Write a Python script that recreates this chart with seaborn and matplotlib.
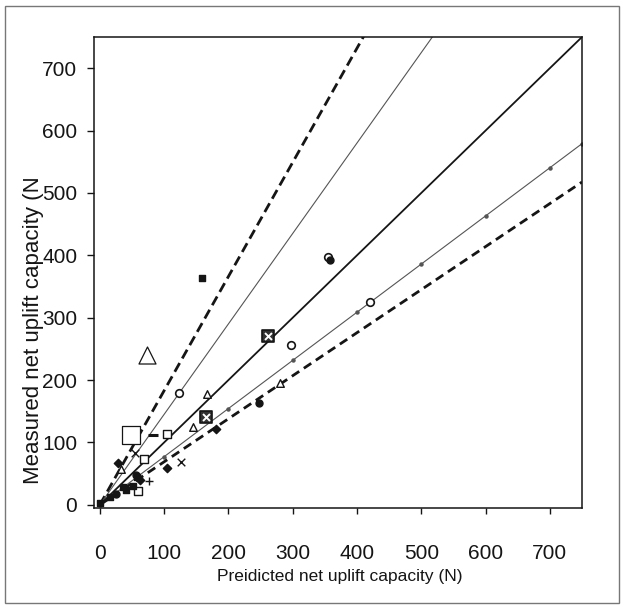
import matplotlib
matplotlib.use("Agg")
import matplotlib.pyplot as plt
from matplotlib.patches import Rectangle
import seaborn as sns
import pandas as pd

sns.set_theme(style="white")
plt.rcParams["font.family"] = ["Liberation Sans", "DejaVu Sans"]

# Reference lines: measured = slope * predicted
line_x = [0, 100, 200, 300, 400, 500, 600, 700, 750]
slope_upper_dashed = 1.83
slope_upper_thin = 1.45
slope_unity = 1.0
slope_lower_thin = 0.772
slope_lower_dashed = 0.69

# Test results (predicted, measured) grouped by symbol
big_open_square_x = [49]
big_open_square_y = [112]
big_open_triangle_x = [74]
big_open_triangle_y = [241]
open_square_x = [105, 68, 60]
open_square_y = [114, 74, 22]
open_circle_x = [123, 297, 421, 355]
open_circle_y = [180, 257, 326, 397]
open_triangle_x = [167, 145, 280, 33]
open_triangle_y = [178, 125, 196, 58]
filled_square_x = [159, 41, 16, 0, 36, 58, 52]
filled_square_y = [364, 24, 13, 3, 28, 45, 30]
cross_square_x = [165, 261]
cross_square_y = [141, 271]
filled_diamond_x = [105, 181, 62, 28]
filled_diamond_y = [59, 122, 40, 67]
filled_circle_x = [247, 358, 57, 25]
filled_circle_y = [164, 393, 48, 18]
x_mark_x = [126, 55]
x_mark_y = [69, 83]
plus_x = [77]
plus_y = [39]
dash_x = [83]
dash_y = [112]

fig = plt.figure(figsize=(6.23, 6.09), dpi=100)
ax = fig.add_axes([94 / 623, 1 - 508 / 609, (582 - 94) / 623, (508 - 37) / 609])

ink = "#151515"
lines = pd.DataFrame({"x": line_x})
for slope, style in [
    (slope_upper_dashed, dict(lw=2.0, ls=(0, (3.6, 1.9)), color=ink)),
    (slope_upper_thin, dict(lw=0.8, ls="-", color="#555555")),
    (slope_unity, dict(lw=1.3, ls="-", color=ink)),
    (slope_lower_thin, dict(lw=0.8, ls="-", color="#555555", marker="o", markersize=2.2)),
    (slope_lower_dashed, dict(lw=2.0, ls=(0, (3.2, 2.0)), color=ink)),
]:
    ax.plot(lines["x"], lines["x"] * slope, **style, zorder=2)


def scatter(xs, ys, marker, size, face, edge=ink, lw=1.0):
    df = pd.DataFrame({"p": xs, "m": ys})
    sns.scatterplot(data=df, x="p", y="m", ax=ax, marker=marker, s=size,
                    facecolor=face, edgecolor=edge, linewidth=lw, zorder=3,
                    legend=False)


scatter(big_open_square_x, big_open_square_y, "s", 150, "white", lw=0.9)
scatter(big_open_triangle_x, big_open_triangle_y, "^", 150, "white", lw=0.9)
scatter(open_square_x, open_square_y, "s", 35, "white")
scatter(open_circle_x, open_circle_y, "o", 30, "white", lw=1.2)
scatter(open_triangle_x, open_triangle_y, "^", 30, "white")
scatter(filled_square_x, filled_square_y, "s", 20, ink)
scatter(cross_square_x, cross_square_y, "s", 80, "#333333", lw=1.2)
scatter(cross_square_x, cross_square_y, "x", 25, "white", edge="white", lw=1.4)
scatter(filled_diamond_x, filled_diamond_y, "D", 18, ink)
scatter(filled_circle_x, filled_circle_y, "o", 25, ink)
ax.scatter(x_mark_x, x_mark_y, marker="x", s=30, color=ink, linewidths=1.0, zorder=3)
ax.scatter(plus_x, plus_y, marker="+", s=30, color=ink, linewidths=1.0, zorder=3)
ax.scatter(dash_x, dash_y, marker="_", s=60, color=ink, linewidths=2.2, zorder=3)

ax.set_xlim(-9, 750)
ax.set_ylim(-5, 750)
ax.set_xticks([0, 100, 200, 300, 400, 500, 600, 700])
ax.set_yticks([0, 100, 200, 300, 400, 500, 600, 700])
ax.set_xlabel("")
ax.set_ylabel("")
for s in ax.spines.values():
    s.set_visible(True)
    s.set_color(ink)
    s.set_linewidth(1.1)
ax.tick_params(axis="y", left=True, direction="out", length=5, width=1, color=ink,
               labelsize=15, pad=7, labelcolor=ink)
ax.tick_params(axis="x", bottom=True, direction="out", length=4, width=1, color=ink,
               labelsize=15, pad=22, labelcolor=ink)

fig.text(340 / 623, 1 - 577 / 609, "Preidicted net uplift capacity (N)", ha="center",
         va="center", fontsize=12.5, color=ink)
fig.text(34 / 623, 1 - 330 / 609, "Measured net uplift capacity (N", ha="center",
         va="center", rotation=90, fontsize=16, color=ink)

fig.patches.append(Rectangle((5 / 623, 6 / 609), (619 - 5) / 623, (603 - 6) / 609,
                             transform=fig.transFigure, fill=False,
                             edgecolor="#777777", lw=1.0))

fig.savefig("out.png", dpi=100)
